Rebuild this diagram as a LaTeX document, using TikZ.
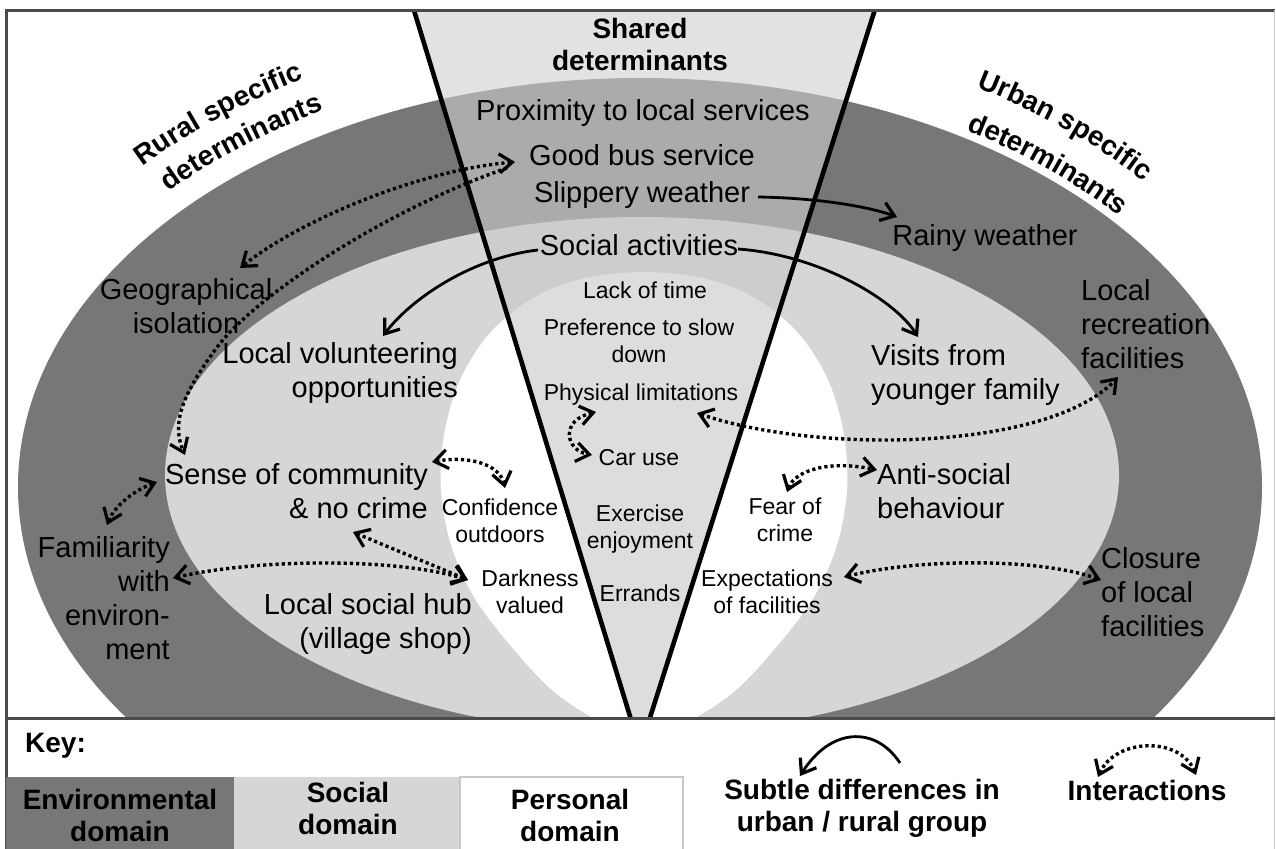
\documentclass[tikz,border=0pt]{standalone}
\usepackage{fontspec}
\setmainfont{Liberation Sans}
\usetikzlibrary{arrows.meta,calc,decorations.text}

\definecolor{envgray}{HTML}{777777}
\definecolor{socgray}{HTML}{D6D6D6}
\definecolor{wtop}{HTML}{E2E2E2}
\definecolor{wenv}{HTML}{ABABAB}
\definecolor{wsoc}{HTML}{CDCDCD}
\definecolor{wper}{HTML}{DDDDDD}
\definecolor{framegray}{HTML}{4A4A4A}
\definecolor{boxline}{HTML}{C8C8C8}

\newcommand{\ttlfont}{\fontsize{28}{32}\selectfont\bfseries}

\begin{document}
\begin{tikzpicture}[x=1pt,y=-1pt,
  lbl/.style={inner sep=0pt, font=\fontsize{29}{34}\selectfont},
  sml/.style={inner sep=0pt, font=\fontsize{23}{27.5}\selectfont},
  ttl/.style={inner sep=0pt, font=\ttlfont},
  barb/.tip={Straight Barb[length=13pt,width=19pt,line width=3.2pt]},
  subtle/.style={line width=2.8pt, -barb},
  inter/.style={line width=3.4pt, dash pattern=on 3.2pt off 3pt, barb-barb},
  interone/.style={line width=3.4pt, dash pattern=on 3.2pt off 3pt, -barb},
  wedgeline/.style={line width=4.6pt, black},
]
\useasboundingbox (0,0) rectangle (1276,848);

% ---------- domains: nested ovals, split by the shared wedge ----------
\begin{scope}
  \clip (6,10.5) rectangle (1274.5,718);
  \fill[envgray] (640,487) ellipse [x radius=622, y radius=409];
  \fill[socgray] (642,475) ellipse [x radius=477, y radius=258];
  \fill[white] plot[smooth cycle, tension=0.55] coordinates {
    (644,272) (585,278) (533,298) (490,333) (460,380) (444,435) (441,490)
    (451,545) (474,597) (510,645) (552,690) (600,722) (644,738)
    (688,722) (736,690) (778,645) (814,597) (837,545) (847,490) (844,435)
    (828,380) (798,333) (755,298) (703,278)};
  \begin{scope}
    \clip (410.8,0) -- (878,0) -- (640,749) -- cycle;
    \fill[wtop] (400,0) rectangle (900,760);
    \fill[wenv] (640,487) ellipse [x radius=622, y radius=409];
    \fill[wsoc] (642,475) ellipse [x radius=477, y radius=258];
    \fill[wper] plot[smooth cycle, tension=0.55] coordinates {
      (644,272) (585,278) (533,298) (490,333) (460,380) (444,435) (441,490)
      (451,545) (474,597) (510,645) (552,690) (600,722) (644,738)
      (688,722) (736,690) (778,645) (814,597) (837,545) (847,490) (844,435)
      (828,380) (798,333) (755,298) (703,278)};
  \end{scope}
  \draw[wedgeline] (410.8,0) -- (640,749);
  \draw[wedgeline] (878,0) -- (640,749);
\end{scope}

% ---------- frame ----------
\draw[framegray, line width=3pt] (6,852) -- (6,10.5) -- (1274.5,10.5);
\draw[boxline, line width=1.5pt] (1274.5,10.5) -- (1274.5,852);
\draw[framegray, line width=3pt] (6,718) -- (1274.5,718);

% ---------- curved headings ----------
\path[decorate, decoration={text along path, text align=center,
    text={|\ttlfont|Rural specific}}]
  ($(640,487)+(207:682 and 469)$) arc[start angle=207, end angle=254, x radius=682, y radius=469];
\path[decorate, decoration={text along path, text align=center,
    text={|\ttlfont|determinants}}]
  ($(640,487)+(207:645 and 432)$) arc[start angle=207, end angle=254, x radius=645, y radius=432];
\path[decorate, decoration={text along path, text align=center,
    text={|\ttlfont|Urban specific}}]
  ($(640,487)+(288:672 and 462)$) arc[start angle=288, end angle=333, x radius=672, y radius=462];
\path[decorate, decoration={text along path, text align=center,
    text={|\ttlfont|determinants}}]
  ($(640,487)+(290:630 and 417)$) arc[start angle=290, end angle=333, x radius=630, y radius=417];

% ---------- shared determinants ----------
\node[ttl, align=center] (shared) at (640,44) {Shared\\determinants};
\node[lbl] (prox) at (643,113) {Proximity to local services};
\node[lbl] (bus) at (642,155) {Good bus service};
\node[lbl] (slip) at (642,195) {Slippery weather};
\node[lbl] (social) at (639,245) {Social activities};
\node[sml] (lack) at (645,290) {Lack of time};
\node[sml, align=center] (pref) at (639,341) {Preference to slow\\down};
\node[sml] (phys) at (641,395) {Physical limitations};
\node[sml] (car) at (639,458) {Car use};
\node[sml, align=center] (exer) at (640,529) {Exercise\\enjoyment};
\node[sml] (errands) at (640,593) {Errands};

% ---------- rural side ----------
\node[lbl, align=center] (geo) at (186,306) {Geographical\\isolation};
\node[lbl, align=right, anchor=east] (vol) at (458,372.5) {Local volunteering\\opportunities};
\node[lbl, align=right, anchor=east] (sense) at (428,491.5) {Sense of community\\\& no crime};
\node[lbl, align=right, anchor=east] (fam) at (170,598) {Familiarity\\with\\environ-\\ment};
\node[lbl, align=right, anchor=east] (hub) at (472,624) {Local social hub\\(village shop)};
\node[sml, align=center] (conf) at (500,521) {Confidence\\outdoors};
\node[sml, align=center] (dark) at (530,592) {Darkness\\valued};

% ---------- urban side ----------
\node[lbl] (rainy) at (985,238) {Rainy weather};
\node[lbl, align=left, anchor=west] (visits) at (871,375) {Visits from\\younger family};
\node[lbl, align=left, anchor=west] (recre) at (1081,324) {Local\\recreation\\facilities};
\node[lbl, align=left, anchor=west] (anti) at (877,491.5) {Anti-social\\behaviour};
\node[lbl, align=left, anchor=west] (closure) at (1101,592) {Closure\\of local\\facilities};
\node[sml, align=center] (fear) at (785,520) {Fear of\\crime};
\node[sml, align=center] (expect) at (767,592) {Expectations\\of facilities};

% ---------- connector ports ----------
\coordinate (bus-w) at (515,162);
\coordinate (bus-sw) at (507,168);
\coordinate (geo-ne) at (240,268);
\coordinate (sense-n) at (185,455);
\coordinate (soc-w) at (538,250);
\coordinate (soc-e) at (738,249);
\coordinate (vol-n) at (383,336);
\coordinate (vis-n) at (918,337);
\coordinate (slip-e) at (758,197);
\coordinate (rain-w) at (897,217);
\coordinate (phys-e) at (697,413);
\coordinate (rec-s) at (1118,377);
\coordinate (phys-w) at (596,412);
\coordinate (car-w) at (592,455);
\coordinate (sense-e) at (432,462);
\coordinate (conf-n) at (505,488);
\coordinate (crime-s) at (353,532);
\coordinate (dark-w) at (468,580);
\coordinate (fam-e) at (173,578);
\coordinate (fam-n) at (107,525);
\coordinate (sense-w) at (157,482);
\coordinate (fear-n) at (787,492);
\coordinate (anti-w) at (877,470);
\coordinate (exp-e) at (844,577);
\coordinate (clo-w) at (1101,580);

% ---------- subtle differences (solid) ----------
\draw[subtle] (slip-e) .. controls (820,198) and (870,207) .. (rain-w);
\draw[subtle] (soc-w) .. controls (470,258) and (410,300) .. (vol-n);
\draw[subtle] (soc-e) .. controls (820,255) and (895,300) .. (vis-n);

% ---------- interactions (dotted) ----------
\draw[inter] (bus-w) .. controls (420,170) and (300,220) .. (geo-ne);
\draw[interone] (bus-sw) .. controls (380,212) and (250,300) .. (215,350)
  .. controls (180,398) and (172,425) .. (sense-n);
\draw[inter] (phys-e) .. controls (820,455) and (1050,450) .. (rec-s);
\draw[inter] (phys-w) .. controls (560,420) and (565,450) .. (car-w);
\draw[inter] (sense-e) .. controls (470,455) and (500,465) .. (conf-n);
\draw[inter] (crime-s) .. controls (400,552) and (440,568) .. (dark-w);
\draw[inter] (fam-e) .. controls (260,558) and (400,558) .. (dark-w);
\draw[inter] (fam-n) .. controls (115,505) and (135,490) .. (sense-w);
\draw[inter] (fear-n) .. controls (795,470) and (830,460) .. (anti-w);
\draw[inter] (exp-e) .. controls (920,558) and (1040,558) .. (clo-w);

% ---------- key ----------
\node[ttl, anchor=west] (key) at (25,746) {Key:};
\fill[envgray] (6,777) rectangle (234,852);
\fill[socgray] (234,777) rectangle (460,852);
\draw[boxline, line width=2pt] (460,852) -- (460,777) -- (683,777) -- (683,852);
\node[ttl, align=center] (envkey) at (120,815) {Environmental\\domain};
\node[ttl, align=center] (sockey) at (348,808) {Social\\domain};
\node[ttl, align=center] (perkey) at (570,815) {Personal\\domain};
\node[ttl, align=center] (subkey) at (862,808) {Subtle differences in\\urban / rural group};
\node[ttl] (interkey) at (1147,790) {Interactions};
\coordinate (subkey-a) at (900,763);
\coordinate (subkey-b) at (800,776);
\draw[subtle] (subkey-a) .. controls (875,725) and (830,728) .. (subkey-b);
\coordinate (interkey-a) at (1098,777);
\coordinate (interkey-b) at (1196,775);
\draw[inter] (interkey-a) .. controls (1115,738) and (1180,736) .. (interkey-b);
\end{tikzpicture}
\end{document}
